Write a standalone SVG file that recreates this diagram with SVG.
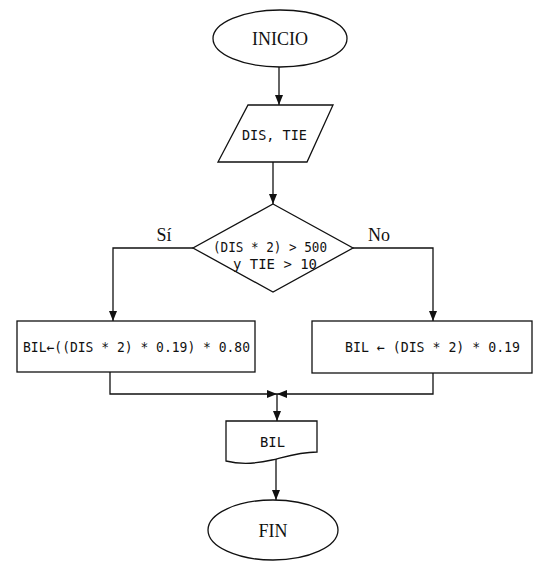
<svg xmlns="http://www.w3.org/2000/svg" width="545" height="571" viewBox="0 0 545 571">
<defs>
<marker id="ah" viewBox="0 0 10 10" refX="10" refY="5" markerWidth="10" markerHeight="10" markerUnits="userSpaceOnUse" orient="auto">
<path d="M0,1 L10,5 L0,9 Z" fill="#111"/>
</marker>
</defs>
<style>
.shape{fill:#fff;stroke:#111;stroke-width:1.3}
.conn{fill:none;stroke:#111;stroke-width:1.3}
.serif{font-family:"Liberation Serif","Times New Roman",serif;font-size:18px;fill:#111}
.mono{font-family:"DejaVu Sans Mono","Liberation Mono",monospace;font-size:14px;fill:#111}
</style>
<rect width="545" height="571" fill="#fff"/>
<g id="connectors">
<line class="conn" x1="279" y1="67" x2="279" y2="105" marker-end="url(#ah)"/>
<line class="conn" x1="273" y1="162" x2="273" y2="204" marker-end="url(#ah)"/>
<polyline class="conn" points="193,248 113,248 113,321" marker-end="url(#ah)"/>
<polyline class="conn" points="353,248 433,248 433,321" marker-end="url(#ah)"/>
<polyline class="conn" points="110,372 110,394 277,394" marker-end="url(#ah)"/>
<polyline class="conn" points="433,373 433,394 277,394" marker-end="url(#ah)"/>
<line class="conn" x1="277" y1="394" x2="277" y2="421" marker-end="url(#ah)"/>
<line class="conn" x1="276" y1="459" x2="276" y2="500" marker-end="url(#ah)"/>
<text class="serif" x="164" y="241" text-anchor="middle">Sí</text>
<text class="serif" x="379" y="241" text-anchor="middle">No</text>
</g>
<g id="inicio">
<ellipse class="shape" cx="280" cy="38.5" rx="67" ry="28.5"/>
<text class="serif" x="280" y="45" text-anchor="middle">INICIO</text>
</g>
<g id="entrada">
<polygon class="shape" points="248,105 333,105 307,162 218,162"/>
<text class="mono" x="242" y="140" textLength="65" lengthAdjust="spacingAndGlyphs">DIS, TIE</text>
</g>
<g id="decision">
<polygon class="shape" points="273,204 353,248 273,292 193,248"/>
<text class="mono" x="213" y="252" textLength="114" lengthAdjust="spacingAndGlyphs">(DIS * 2) &gt; 500</text>
<text class="mono" x="233" y="269" textLength="84" lengthAdjust="spacingAndGlyphs">y TIE &gt; 10</text>
</g>
<g id="calc-si">
<rect class="shape" x="17" y="321" width="238" height="51"/>
<text class="mono" x="23" y="352" textLength="227" lengthAdjust="spacingAndGlyphs">BIL←((DIS * 2) * 0.19) * 0.80</text>
</g>
<g id="calc-no">
<rect class="shape" x="312" y="321" width="220" height="52"/>
<text class="mono" x="345" y="352" textLength="175" lengthAdjust="spacingAndGlyphs">BIL ← (DIS * 2) * 0.19</text>
</g>
<g id="salida">
<path class="shape" d="M226,421 H317 V452 C300,452 288,456 272,460 C255,464 238,464 226,461 Z"/>
<text class="mono" x="260" y="447" textLength="25" lengthAdjust="spacingAndGlyphs">BIL</text>
</g>
<g id="fin">
<ellipse class="shape" cx="273" cy="530" rx="65" ry="30"/>
<text class="serif" x="273" y="537" text-anchor="middle">FIN</text>
</g>
</svg>
